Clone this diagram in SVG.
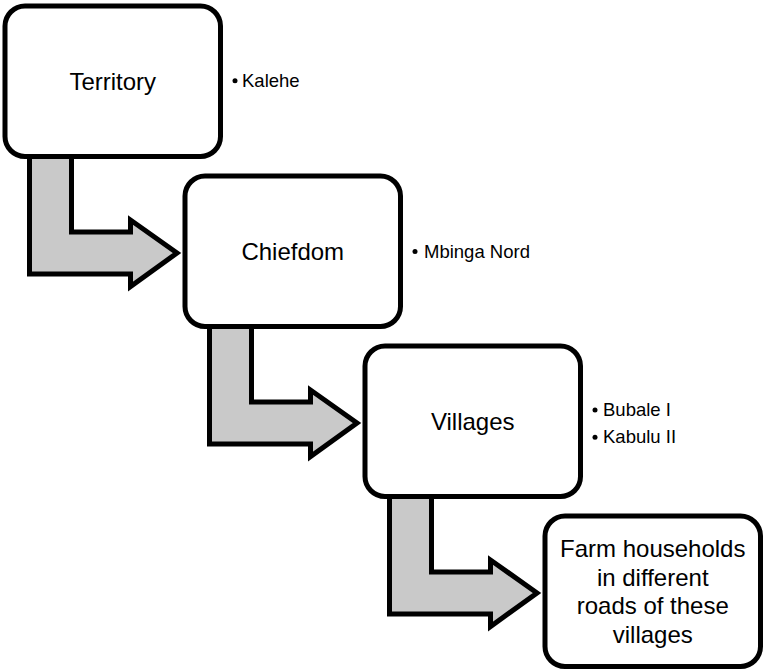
<svg xmlns="http://www.w3.org/2000/svg" width="763" height="671" viewBox="0 0 763 671">
<style>
.box{fill:#ffffff;stroke:#000000;stroke-width:5}
.arrow{fill:#c9c9c9;stroke:#000000;stroke-width:5;stroke-linejoin:miter;stroke-miterlimit:10}
.main{font-family:"Liberation Sans",Arial,sans-serif;font-size:24px;fill:#000000;text-anchor:middle}
.bul{font-family:"Liberation Sans",Arial,sans-serif;font-size:18.5px;fill:#000000}
</style>
<rect width="763" height="671" fill="#ffffff"/>
<defs>
<path id="arr" d="M 29.5 150 L 29.5 274 L 130.5 274 L 130.5 286.5 L 177 253 L 130.5 220 L 130.5 232 L 71.5 232 L 71.5 150 Z"/>
</defs>
<g id="connectors">
<use href="#arr" class="arrow"/>
<use href="#arr" class="arrow" transform="translate(180,170)"/>
<use href="#arr" class="arrow" transform="translate(360,340)"/>
</g>
<g id="territory">
<rect class="box" x="5" y="6" width="215.5" height="150.5" rx="20" ry="20"/>
<text class="main" x="112.75" y="90">Territory</text>
</g>
<g id="territory-list">
<circle cx="235" cy="80.7" r="2.5"/>
<text class="bul" x="242" y="86.7">Kalehe</text>
</g>
<g id="chiefdom">
<rect class="box" x="185" y="176" width="215.5" height="150.5" rx="20" ry="20"/>
<text class="main" x="292.75" y="260">Chiefdom</text>
</g>
<g id="chiefdom-list">
<circle cx="415" cy="251.5" r="2.5"/>
<text class="bul" x="424" y="258">Mbinga Nord</text>
</g>
<g id="villages">
<rect class="box" x="365" y="346" width="215.5" height="150.5" rx="20" ry="20"/>
<text class="main" x="472.75" y="430">Villages</text>
</g>
<g id="villages-list">
<circle cx="595" cy="410" r="2.5"/>
<text class="bul" x="603" y="415.5">Bubale I</text>
<circle cx="595" cy="437.3" r="2.5"/>
<text class="bul" x="603" y="443">Kabulu II</text>
</g>
<g id="households">
<rect class="box" x="545" y="516" width="215.5" height="150.5" rx="20" ry="20"/>
<text class="main" x="652.75" y="557">Farm households</text>
<text class="main" x="652.75" y="585.5">in different</text>
<text class="main" x="652.75" y="614">roads of these</text>
<text class="main" x="652.75" y="642.5">villages</text>
</g>
</svg>
